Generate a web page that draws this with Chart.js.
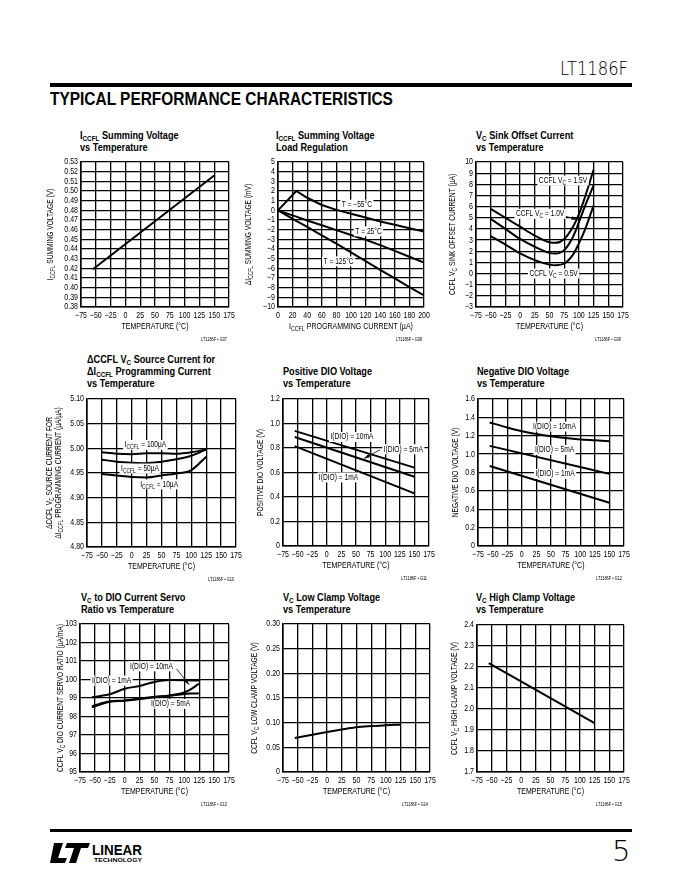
<!DOCTYPE html>
<html>
<head>
<meta charset="utf-8">
<script src="https://cdn.jsdelivr.net/npm/chart.js@4.4.1/dist/chart.umd.min.js"></script>
<style>
  body { margin: 0; width: 680px; height: 880px; background: #fff; position: relative; overflow: hidden;
         font-family: 'Liberation Sans', Arial, sans-serif; color: #000; }
  .abs { position: absolute; white-space: nowrap; }
  .ttl { position: absolute; font-weight: bold; font-size: 10.2px; line-height: 12px; white-space: nowrap;
         transform: scaleX(0.9); transform-origin: 0 0; }
  .ttl sub { font-size: 7px; vertical-align: -2px; line-height: 0; }
  .rule { position: absolute; background: #000; }
  canvas { position: absolute; }
</style>
</head>
<body>
<div class="abs fit" data-w="68" style="right:52px;top:56px;font-family:'DejaVu Sans';font-size:20px;font-weight:200;transform-origin:100% 0;">LT1186F</div>
<div class="rule" style="left:50px;top:83px;width:582px;height:4px;"></div>
<div class="abs fit" data-w="343" style="left:50px;top:88px;font-size:19px;font-weight:bold;transform-origin:0 0;">TYPICAL PERFORMANCE CHARACTERISTICS</div>

<div class="ttl" style="left:80px;top:130px;">I<sub>CCFL</sub> Summing Voltage<br>vs Temperature</div>
<div class="ttl" style="left:276px;top:130px;">I<sub>CCFL</sub> Summing Voltage<br>Load Regulation</div>
<div class="ttl" style="left:476px;top:130px;">V<sub>C</sub> Sink Offset Current<br>vs Temperature</div>
<div class="ttl" style="left:87px;top:354px;">&Delta;CCFL V<sub>C</sub> Source Current for<br>&Delta;I<sub>CCFL</sub> Programming Current<br>vs Temperature</div>
<div class="ttl" style="left:283px;top:366px;">Positive DIO Voltage<br>vs Temperature</div>
<div class="ttl" style="left:477px;top:366px;">Negative DIO Voltage<br>vs Temperature</div>
<div class="ttl" style="left:81px;top:592px;">V<sub>C</sub> to DIO Current Servo<br>Ratio vs Temperature</div>
<div class="ttl" style="left:283px;top:592px;">V<sub>C</sub> Low Clamp Voltage<br>vs Temperature</div>
<div class="ttl" style="left:476px;top:592px;">V<sub>C</sub> High Clamp Voltage<br>vs Temperature</div>

<div class="rule" style="left:50px;top:829px;width:582px;height:3px;"></div>
<svg class="abs" style="left:50px;top:838px;" width="100" height="28" viewBox="0 0 100 28">
  <path d="M4 5 L13 5 L8 20 L17 20 L15 25 L0 25 Z" fill="#000"/>
  <path d="M17 5 L40 5 L38 10 L31 10 L26 25 L19 25 L24 10 L15 10 Z" fill="#000"/>
  <text x="42" y="17" font-family="Liberation Sans, Arial, sans-serif" font-size="15" font-weight="bold" textLength="50" lengthAdjust="spacingAndGlyphs">LINEAR</text>
  <text x="44" y="24" font-family="Liberation Sans, Arial, sans-serif" font-size="6" font-weight="bold" textLength="48" lengthAdjust="spacingAndGlyphs">TECHNOLOGY</text>
</svg>
<div class="abs" style="left:612px;top:834px;font-family:'DejaVu Sans';font-size:29px;font-weight:200;">5</div>

<script>
const FONT = "'Liberation Sans', Arial, sans-serif";
const K = 0.78; // horizontal squeeze to mimic the condensed datasheet type

// shared temperature axis labels
const tempTicks = ['−75', '−50', '−25', '0', '25', '50', '75', '100', '125', '150', '175'];

// chart 1: I_CCFL summing voltage vs temperature
const c1Temp = [-55, 150];
const c1Volt = [0.419, 0.516];
const c1YTicks = ['0.38', '0.39', '0.40', '0.41', '0.42', '0.43', '0.44', '0.45', '0.46', '0.47',
                  '0.48', '0.49', '0.50', '0.51', '0.52', '0.53'];

// chart 2: load regulation
const c2Current = [0, 25, 40, 60, 80, 100, 120, 140, 160, 180, 200];
const c2TMinus55 = [0, 2.0, 1.3, 0.55, 0.05, -0.35, -0.75, -1.15, -1.5, -1.85, -2.2];
const c2T25 = [0, -0.65, -1.05, -1.55, -2.05, -2.55, -3.05, -3.6, -4.2, -4.8, -5.4];
const c2T125 = [0, -1.1, -1.7, -2.6, -3.45, -4.35, -5.25, -6.15, -7.05, -7.95, -8.8];
const c2XTicks = ['0', '20', '40', '60', '80', '100', '120', '140', '160', '180', '200'];
const c2YTicks = ['−10', '−9', '−8', '−7', '−6', '−5', '−4', '−3', '−2', '−1', '0', '1', '2', '3', '4', '5'];

// chart 3: sink offset current
const c3Temp = [-50, -25, 0, 25, 50, 60, 75, 90, 100, 110, 125];
const c3Vc15 = [5.8, 5.0, 4.2, 3.4, 2.8, 2.75, 3.1, 4.2, 5.3, 6.8, 9.3];
const c3Vc10 = [4.9, 4.0, 3.1, 2.4, 1.85, 1.8, 2.1, 3.3, 4.6, 6.0, 7.9];
const c3Vc05 = [3.35, 2.6, 1.8, 1.2, 0.8, 0.75, 0.9, 1.7, 2.7, 3.9, 6.1];
const c3YTicks = ['−3', '−2', '−1', '0', '1', '2', '3', '4', '5', '6', '7', '8', '9', '10'];

// chart 4: source current ratio
const c4Temp = [-50, -25, 0, 25, 50, 75, 100, 125];
const c4I100 = [4.992, 4.989, 4.988, 4.990, 4.990, 4.989, 4.992, 4.998];
const c4I50 = [4.977, 4.973, 4.971, 4.970, 4.973, 4.978, 4.985, 4.998];
const c4I10 = [4.948, 4.945, 4.942, 4.941, 4.945, 4.949, 4.956, 4.983];
const c4YTicks = ['4.80', '4.85', '4.90', '4.95', '5.00', '5.05', '5.10'];

// chart 5: positive DIO voltage
const c5Temp = [-55, 150];
const c5I10 = [0.94, 0.64];
const c5I5 = [0.89, 0.565];
const c5I1 = [0.815, 0.43];
const c5YTicks = ['0', '0.2', '0.4', '0.6', '0.8', '1.0', '1.2'];

// chart 6: negative DIO voltage
const c6Temp = [-55, -25, 0, 25, 50, 75, 100, 125, 150];
const c6I10 = [1.345, 1.29, 1.25, 1.22, 1.195, 1.175, 1.16, 1.15, 1.14];
const c6LinTemp = [-55, 150];
const c6I5 = [1.09, 0.785];
const c6I1 = [0.87, 0.47];
const c6YTicks = ['0', '0.2', '0.4', '0.6', '0.8', '1.0', '1.2', '1.4', '1.6'];

// chart 7: servo ratio
const c7Temp = [-55, -25, 0, 25, 50, 75, 100, 110, 125];
const c7I1 = [99.04, 99.2, 99.5, 99.65, 99.87, 99.97, 99.96, 99.95, 99.94];
const c7I10 = [98.55, 98.82, 98.87, 98.96, 99.07, 99.14, 99.3, 99.45, 99.78];
const c7I5 = [98.5, 98.8, 98.85, 98.94, 99.04, 99.12, 99.22, 99.24, 99.25];
const c7YTicks = ['95', '96', '97', '98', '99', '100', '101', '102', '103'];

// chart 8: low clamp
const c8Temp = [-55, 0, 25, 50, 75, 100, 125];
const c8Volt = [0.069, 0.081, 0.086, 0.0905, 0.093, 0.095, 0.096];
const c8YTicks = ['0', '0.05', '0.10', '0.15', '0.20', '0.25', '0.30'];

// chart 9: high clamp
const c9Temp = [-55, 125];
const c9Volt = [2.219, 1.933];
const c9YTicks = ['1.7', '1.8', '1.9', '2.0', '2.1', '2.2', '2.3', '2.4'];

const toNum = s => Number(s.replace('−', '-'));
const pts = (xs, ys) => xs.map((x, i) => ({ x: x, y: ys[i] }));

// squeeze header texts to their printed widths
document.querySelectorAll('.fit').forEach(el => {
  el.style.transform = 'scaleX(' + (Number(el.dataset.w) / el.offsetWidth) + ')';
});

// condensed text with _{subscript} parts; returns drawn width
function drawRich(ctx, text, x, y, size, align, measureOnly) {
  const segs = text.split(/(_\{[^}]*\})/).filter(p => p.length).map(p => {
    const sub = p.startsWith('_{');
    return { t: sub ? p.slice(2, -1) : p, sub: sub };
  });
  const fontOf = s => (s.sub ? size * 0.75 : size) + 'px ' + FONT;
  let total = 0;
  segs.forEach(s => { ctx.font = fontOf(s); s.w = ctx.measureText(s.t).width; total += s.w; });
  if (measureOnly) return total * K;
  const start = align === 'center' ? x - total * K / 2 : (align === 'right' ? x - total * K : x);
  ctx.save();
  ctx.translate(start, y);
  ctx.scale(K, 1);
  ctx.textAlign = 'left';
  ctx.textBaseline = 'middle';
  let cx = 0;
  segs.forEach(s => {
    ctx.font = fontOf(s);
    ctx.fillText(s.t, cx, s.sub ? size * 0.3 : 0);
    cx += s.w;
  });
  ctx.restore();
  return total * K;
}

const sheetPlugin = {
  id: 'sheet',
  afterDatasetsDraw(chart, args, opts) {
    const ctx = chart.ctx;
    const xs = chart.scales.x, ys = chart.scales.y;
    ctx.save();
    ctx.fillStyle = '#000';
    (opts.arrows || []).forEach(a => {
      const x1 = xs.getPixelForValue(a[0]), y1 = ys.getPixelForValue(a[1]);
      const x2 = xs.getPixelForValue(a[2]), y2 = ys.getPixelForValue(a[3]);
      const ang = Math.atan2(y2 - y1, x2 - x1);
      ctx.strokeStyle = '#000';
      ctx.lineWidth = 0.8;
      ctx.beginPath(); ctx.moveTo(x1, y1); ctx.lineTo(x2, y2); ctx.stroke();
      ctx.beginPath();
      ctx.moveTo(x2, y2);
      ctx.lineTo(x2 - 6 * Math.cos(ang - 0.3), y2 - 6 * Math.sin(ang - 0.3));
      ctx.lineTo(x2 - 6 * Math.cos(ang + 0.3), y2 - 6 * Math.sin(ang + 0.3));
      ctx.closePath(); ctx.fill();
    });
    (opts.labels || []).forEach(l => {
      const px = xs.getPixelForValue(l[0]), py = ys.getPixelForValue(l[1]);
      const w = drawRich(ctx, l[2], 0, 0, 8.5, 'left', true);
      ctx.fillStyle = '#fff';
      ctx.fillRect(px - w / 2 - 1.5, py - 5, w + 3, 10);
      ctx.fillStyle = '#000';
      drawRich(ctx, l[2], px, py, 8.5, 'center');
    });
    ctx.restore();
  },
  afterDraw(chart, args, opts) {
    const ctx = chart.ctx;
    const a = chart.chartArea;
    const xs = chart.scales.x, ys = chart.scales.y;
    ctx.save();
    ctx.fillStyle = '#000';
    // tick labels, placed through the scales
    xs.ticks.forEach((t, i) => {
      drawRich(ctx, opts.xLabels[i], xs.getPixelForValue(t.value), a.bottom + 8.5, 9, 'center');
    });
    ys.ticks.forEach((t, i) => {
      drawRich(ctx, opts.yLabels[i], a.left - 3, ys.getPixelForValue(t.value), 9, 'right');
    });
    (opts.yTitle || []).forEach((t, i) => {
      ctx.save();
      ctx.translate(a.left - opts.yOff[i], (a.top + a.bottom) / 2);
      ctx.rotate(-Math.PI / 2);
      drawRich(ctx, t, 0, 0, 8.5, 'center');
      ctx.restore();
    });
    drawRich(ctx, opts.xTitle, (a.left + a.right) / 2, a.bottom + 19.5, 9, 'center');
    drawRich(ctx, opts.code, a.right - 2, a.bottom + 33, 5, 'right');
    ctx.restore();
  }
};

function axis(labels, isY) {
  const vals = labels.map(toNum);
  return {
    type: 'linear',
    min: vals[0],
    max: vals[vals.length - 1],
    afterBuildTicks: s => { s.ticks = vals.map(v => ({ value: v })); },
    afterFit: s => { if (isY) s.width = 50; else s.height = 40; },
    ticks: { display: false },
    grid: { color: '#000', lineWidth: 1.3, drawTicks: false },
    border: { color: '#000', width: 1.6 }
  };
}

function makeChart(box, spec) {
  const cv = document.createElement('canvas');
  cv.width = box.w + 64;
  cv.height = box.h + 48;
  cv.style.left = (box.l - 50) + 'px';
  cv.style.top = (box.t - 8) + 'px';
  document.body.appendChild(cv);
  return new Chart(cv, {
    type: 'line',
    data: {
      datasets: spec.series.map(s => ({
        data: pts(s[0], s[1]),
        borderColor: '#000',
        borderWidth: 2,
        pointRadius: 0,
        fill: false,
        tension: spec.smooth ? 0.4 : 0,
        cubicInterpolationMode: spec.smooth ? 'monotone' : 'default'
      }))
    },
    options: {
      responsive: false,
      animation: false,
      events: [],
      layout: { padding: { left: 0, top: 8, right: 14, bottom: 0 } },
      scales: { x: axis(spec.xTicks, false), y: axis(spec.yTicks, true) },
      plugins: {
        legend: { display: false },
        tooltip: { enabled: false },
        sheet: {
          xLabels: spec.xTicks, yLabels: spec.yTicks,
          yTitle: spec.yTitle, yOff: spec.yOff, xTitle: spec.xTitle, code: spec.code,
          labels: spec.labels || [], arrows: spec.arrows || []
        }
      }
    },
    plugins: [sheetPlugin]
  });
}

const TEMP_TITLE = 'TEMPERATURE (°C)';

makeChart({ l: 81, t: 162, w: 148, h: 145 }, {
  xTicks: tempTicks, yTicks: c1YTicks, series: [[c1Temp, c1Volt]],
  yTitle: ['I_{CCFL} SUMMING VOLTAGE (V)'], yOff: [30], xTitle: TEMP_TITLE, code: 'LT1186F • G07'
});

makeChart({ l: 278, t: 162, w: 146, h: 145 }, {
  xTicks: c2XTicks, yTicks: c2YTicks,
  series: [[c2Current, c2TMinus55], [c2Current, c2T25], [c2Current, c2T125]],
  yTitle: ['ΔI_{CCFL} SUMMING VOLTAGE (mV)'], yOff: [29],
  xTitle: 'I_{CCFL} PROGRAMMING CURRENT (µA)', code: 'LT1186F • G08',
  labels: [[108, 0.59, 'T = −55°C'], [124, -2.17, 'T = 25°C'], [83, -5.28, 'T = 125°C']]
});

makeChart({ l: 476, t: 162, w: 147, h: 145 }, {
  xTicks: tempTicks, yTicks: c3YTicks, smooth: true,
  series: [[c3Temp, c3Vc15], [c3Temp, c3Vc10], [c3Temp, c3Vc05]],
  yTitle: ['CCFL V_{C} SINK OFFSET CURRENT (µA)'], yOff: [23], xTitle: TEMP_TITLE, code: 'LT1186F • G09',
  labels: [[73, 8.33, 'CCFL V_{C} = 1.5V'], [34, 5.35, 'CCFL V_{C} = 1.0V'], [57, 0.0, 'CCFL V_{C} = 0.5V']],
  arrows: [[68, 5.28, 97, 4.84]]
});

makeChart({ l: 87, t: 399, w: 149, h: 148 }, {
  xTicks: tempTicks, yTicks: c4YTicks, smooth: true,
  series: [[c4Temp, c4I100], [c4Temp, c4I50], [c4Temp, c4I10]],
  yTitle: ['ΔCCFL V_{C} SOURCE CURRENT FOR', 'ΔI_{CCFL} PROGRAMMING CURRENT (µA/µA)'], yOff: [37, 28],
  xTitle: TEMP_TITLE, code: 'LT1186F • G10',
  labels: [[23, 5.007, 'I_{CCFL} = 100µA'], [14, 4.959, 'I_{CCFL} = 50µA'], [46, 4.927, 'I_{CCFL} = 10µA']]
});

makeChart({ l: 283, t: 399, w: 146, h: 147 }, {
  xTicks: tempTicks, yTicks: c5YTicks,
  series: [[c5Temp, c5I10], [c5Temp, c5I5], [c5Temp, c5I1]],
  yTitle: ['POSITIVE DIO VOLTAGE (V)'], yOff: [22], xTitle: TEMP_TITLE, code: 'LT1186F • G11',
  labels: [[43, 0.89, 'I(DIO) = 10mA'], [131, 0.79, 'I(DIO) = 5mA'], [20, 0.56, 'I(DIO) = 1mA']],
  arrows: [[91, 0.785, 64, 0.715]]
});

makeChart({ l: 478, t: 399, w: 146, h: 147 }, {
  xTicks: tempTicks, yTicks: c6YTicks, smooth: true,
  series: [[c6Temp, c6I10], [c6LinTemp, c6I5], [c6LinTemp, c6I1]],
  yTitle: ['NEGATIVE DIO VOLTAGE (V)'], yOff: [22], xTitle: TEMP_TITLE, code: 'LT1186F • G12',
  labels: [[56, 1.30, 'I(DIO) = 10mA'], [56, 1.046, 'I(DIO) = 5mA'], [57, 0.784, 'I(DIO) = 1mA']]
});

makeChart({ l: 80, t: 624, w: 149, h: 148 }, {
  xTicks: tempTicks, yTicks: c7YTicks, smooth: true,
  series: [[c7Temp, c7I1], [c7Temp, c7I10], [c7Temp, c7I5]],
  yTitle: ['CCFL V_{C} DIO CURRENT SERVO RATIO (µA/mA)'], yOff: [19], xTitle: TEMP_TITLE, code: 'LT1186F • G13',
  labels: [[45, 100.71, 'I(DIO) = 10mA'], [-22, 99.94, 'I(DIO) = 1mA'], [77, 98.68, 'I(DIO) = 5mA']],
  arrows: [[87, 100.58, 108, 99.72]]
});

makeChart({ l: 283, t: 624, w: 147, h: 148 }, {
  xTicks: tempTicks, yTicks: c8YTicks, smooth: true,
  series: [[c8Temp, c8Volt]],
  yTitle: ['CCFL V_{C} LOW CLAMP VOLTAGE (V)'], yOff: [28], xTitle: TEMP_TITLE, code: 'LT1186F • G14'
});

makeChart({ l: 477, t: 625, w: 147, h: 147 }, {
  xTicks: tempTicks, yTicks: c9YTicks,
  series: [[c9Temp, c9Volt]],
  yTitle: ['CCFL V_{C} HIGH CLAMP VOLTAGE (V)'], yOff: [22], xTitle: TEMP_TITLE, code: 'LT1186F • G15'
});
</script>
</body>
</html>
